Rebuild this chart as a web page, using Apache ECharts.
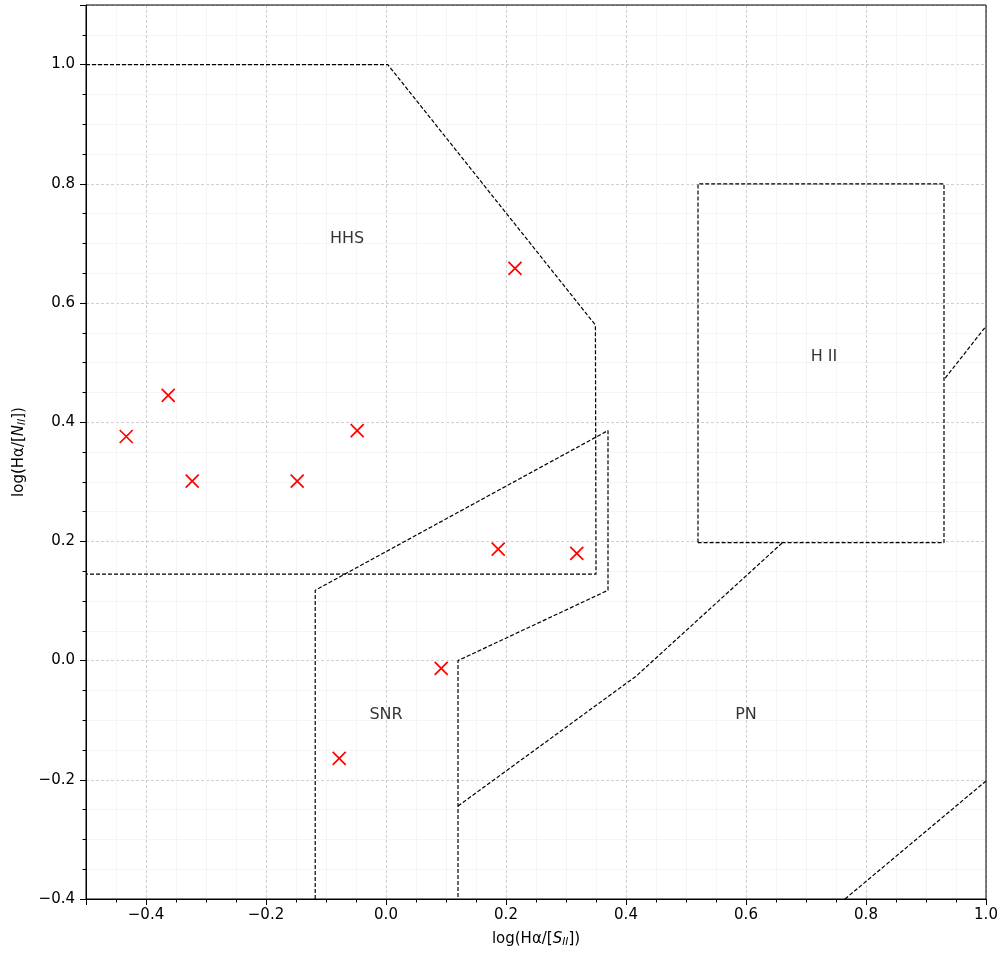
<!DOCTYPE html>
<html>
<head>
<meta charset="utf-8">
<script src="https://cdn.jsdelivr.net/npm/echarts@6/dist/echarts.min.js"></script>
<style>html,body{margin:0;padding:0;background:#fff}#c{width:1001px;height:954px}</style>
</head>
<body>
<div id="c"></div>
<script>
// Observed points
var pointsX = [-0.433, -0.363, -0.323, -0.148, -0.048, 0.215, 0.187, 0.318, 0.092, -0.078];
var pointsY = [0.376, 0.445, 0.301, 0.301, 0.386, 0.658, 0.187, 0.180, -0.013, -0.164];

// Region boundaries
var hhsLine = [[-0.5, 1.0], [0.003, 1.0], [0.349, 0.563], [0.35, 0.145], [-0.5, 0.145]];
var snrLine = [[-0.118, -0.4], [-0.118, 0.118], [0.37, 0.386], [0.37, 0.118], [0.12, 0.0], [0.12, -0.4]];
var pnLine1 = [[0.12, -0.244], [0.417, -0.026], [0.662, 0.199]];
var pnLine2 = [[0.932, 0.474], [1.0, 0.561]];
var pnLine3 = [[0.765, -0.4], [1.0, -0.202]];
var hiiBox = [[0.52, 0.198], [0.52, 0.8], [0.93, 0.8], [0.93, 0.198], [0.52, 0.198]];

// Region labels
var regionNames = ['HHS', 'H II', 'SNR', 'PN'];
var regionX = [-0.065, 0.73, 0.0, 0.6];
var regionY = [0.708, 0.509, -0.091, -0.091];

var FONT = 'DejaVu Sans';
function fmt(v) { return v.toFixed(1).replace('-', '\u2212'); }

function boundary(data) {
  return {
    type: 'line', data: data, symbol: 'none', silent: true, clip: true,
    lineStyle: { color: '#000', width: 1.2, type: [4, 2] }, z: 3
  };
}

var chart = echarts.init(document.getElementById('c'), null, { renderer: 'canvas' });
var series = [
  boundary(hhsLine), boundary(snrLine), boundary(pnLine1), boundary(pnLine2),
  boundary(pnLine3), boundary(hiiBox),
  {
    type: 'scatter',
    data: pointsX.map(function (x, i) { return [x, pointsY[i]]; }),
    symbol: 'path://M0,0L10,10M10,0L0,10',
    symbolSize: 13,
    itemStyle: { color: 'none', borderColor: '#ff0000', borderWidth: 1.7, opacity: 1 },
    z: 5
  },
  {
    type: 'scatter',
    data: regionNames.map(function (n, i) { return { value: [regionX[i], regionY[i]], name: n }; }),
    symbolSize: 0,
    label: {
      show: true, position: 'inside', formatter: '{b}',
      fontFamily: FONT, fontSize: 16, color: '#000'
    },
    silent: true, z: 6
  }
];

var richName = {
  i: { fontFamily: FONT, fontSize: 15, fontStyle: 'italic', color: '#000' },
  s: { fontFamily: FONT, fontSize: 10.5, fontStyle: 'italic', color: '#000', padding: [6, 0, 0, 0] }
};

chart.setOption({
  animation: false,
  grid: { left: 86, right: 15, top: 5, bottom: 55, show: true, borderColor: '#000', borderWidth: 1, backgroundColor: 'transparent', z: 10 },
  xAxis: {
    type: 'value', min: -0.5, max: 1.0, splitNumber: 7,
    name: 'log(H\u03b1/[{i|S}{s|II}])',
    nameLocation: 'middle', nameGap: 32,
    nameTextStyle: { fontFamily: FONT, fontSize: 15, color: '#000', rich: richName },
    axisLine: { show: true, onZero: false, lineStyle: { color: '#000', width: 1 } },
    axisTick: { show: true, length: 6, lineStyle: { color: '#000' } },
    minorTick: { show: true, splitNumber: 4, length: 3.5, lineStyle: { color: '#000' } },
    axisLabel: { fontFamily: FONT, fontSize: 15, color: '#000', margin: 9, showMinLabel: false, formatter: fmt },
    splitLine: { show: true, lineStyle: { color: '#c4c4c4', width: 0.8, type: [3, 2] } },
    minorSplitLine: { show: true, lineStyle: { color: '#f2f2f2', width: 0.8 } }
  },
  yAxis: {
    type: 'value', min: -0.4, max: 1.1, splitNumber: 7,
    name: 'log(H\u03b1/[{i|N}{s|II}])',
    nameLocation: 'middle', nameGap: 58,
    nameTextStyle: { fontFamily: FONT, fontSize: 15, color: '#000', rich: richName },
    axisLine: { show: true, onZero: false, lineStyle: { color: '#000', width: 1 } },
    axisTick: { show: true, length: 6, lineStyle: { color: '#000' } },
    minorTick: { show: true, splitNumber: 4, length: 3.5, lineStyle: { color: '#000' } },
    axisLabel: { fontFamily: FONT, fontSize: 15, color: '#000', margin: 11, showMaxLabel: false, formatter: fmt },
    splitLine: { show: true, lineStyle: { color: '#c4c4c4', width: 0.8, type: [3, 2] } },
    minorSplitLine: { show: true, lineStyle: { color: '#f2f2f2', width: 0.8 } }
  },
  series: series
});
</script>
</body>
</html>
